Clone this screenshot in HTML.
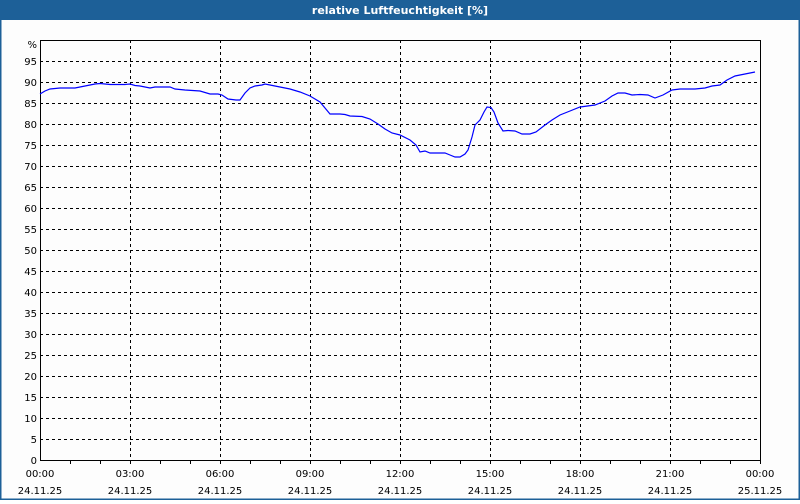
<!DOCTYPE html>
<html><head><style>
body{margin:0;width:800px;height:500px;overflow:hidden;background:#fff;font-family:Tahoma,"DejaVu Sans","Liberation Sans",sans-serif;}
</style></head><body>
<svg width="800" height="500" xmlns="http://www.w3.org/2000/svg" font-family="DejaVu Sans, Liberation Sans, sans-serif" font-size="10">
<rect x="0" y="0" width="800" height="500" fill="#fdfdfd"/>
<rect x="0" y="0" width="800" height="20" fill="#1d6098"/>
<rect x="0" y="0" width="1.5" height="500" fill="#1d6098"/>
<rect x="798.5" y="0" width="1.5" height="500" fill="#1d6098"/>
<rect x="0" y="498.5" width="800" height="1.5" fill="#1d6098"/>
<text x="400" y="14" fill="#fff" font-weight="bold" font-size="11" text-anchor="middle">relative Luftfeuchtigkeit [%]</text>
<g stroke="#000" stroke-width="1" stroke-dasharray="3,3">
<line x1="40" x2="760" y1="61.5" y2="61.5"/><line x1="40" x2="760" y1="82.5" y2="82.5"/><line x1="40" x2="760" y1="103.5" y2="103.5"/><line x1="40" x2="760" y1="124.5" y2="124.5"/><line x1="40" x2="760" y1="145.5" y2="145.5"/><line x1="40" x2="760" y1="166.5" y2="166.5"/><line x1="40" x2="760" y1="187.5" y2="187.5"/><line x1="40" x2="760" y1="208.5" y2="208.5"/><line x1="40" x2="760" y1="229.5" y2="229.5"/><line x1="40" x2="760" y1="250.5" y2="250.5"/><line x1="40" x2="760" y1="271.5" y2="271.5"/><line x1="40" x2="760" y1="292.5" y2="292.5"/><line x1="40" x2="760" y1="313.5" y2="313.5"/><line x1="40" x2="760" y1="334.5" y2="334.5"/><line x1="40" x2="760" y1="355.5" y2="355.5"/><line x1="40" x2="760" y1="376.5" y2="376.5"/><line x1="40" x2="760" y1="397.5" y2="397.5"/><line x1="40" x2="760" y1="418.5" y2="418.5"/><line x1="40" x2="760" y1="439.5" y2="439.5"/>
<line x1="130.5" x2="130.5" y1="40" y2="460"/><line x1="220.5" x2="220.5" y1="40" y2="460"/><line x1="310.5" x2="310.5" y1="40" y2="460"/><line x1="400.5" x2="400.5" y1="40" y2="460"/><line x1="490.5" x2="490.5" y1="40" y2="460"/><line x1="580.5" x2="580.5" y1="40" y2="460"/><line x1="670.5" x2="670.5" y1="40" y2="460"/>
</g>
<rect x="40.5" y="40.5" width="720" height="420" fill="none" stroke="#000"/>
<g stroke="#000">
<line x1="70.5" x2="70.5" y1="460" y2="464"/><line x1="100.5" x2="100.5" y1="460" y2="464"/><line x1="130.5" x2="130.5" y1="460" y2="464"/><line x1="160.5" x2="160.5" y1="460" y2="464"/><line x1="190.5" x2="190.5" y1="460" y2="464"/><line x1="220.5" x2="220.5" y1="460" y2="464"/><line x1="250.5" x2="250.5" y1="460" y2="464"/><line x1="280.5" x2="280.5" y1="460" y2="464"/><line x1="310.5" x2="310.5" y1="460" y2="464"/><line x1="340.5" x2="340.5" y1="460" y2="464"/><line x1="370.5" x2="370.5" y1="460" y2="464"/><line x1="400.5" x2="400.5" y1="460" y2="464"/><line x1="430.5" x2="430.5" y1="460" y2="464"/><line x1="460.5" x2="460.5" y1="460" y2="464"/><line x1="490.5" x2="490.5" y1="460" y2="464"/><line x1="520.5" x2="520.5" y1="460" y2="464"/><line x1="550.5" x2="550.5" y1="460" y2="464"/><line x1="580.5" x2="580.5" y1="460" y2="464"/><line x1="610.5" x2="610.5" y1="460" y2="464"/><line x1="640.5" x2="640.5" y1="460" y2="464"/><line x1="670.5" x2="670.5" y1="460" y2="464"/><line x1="700.5" x2="700.5" y1="460" y2="464"/><line x1="730.5" x2="730.5" y1="460" y2="464"/><line x1="760.5" x2="760.5" y1="460" y2="464"/>
</g>
<g fill="#000" text-anchor="end">
<text x="37" y="48">%</text><text x="37" y="65">95</text><text x="37" y="86">90</text><text x="37" y="107">85</text><text x="37" y="128">80</text><text x="37" y="149">75</text><text x="37" y="170">70</text><text x="37" y="191">65</text><text x="37" y="212">60</text><text x="37" y="233">55</text><text x="37" y="254">50</text><text x="37" y="275">45</text><text x="37" y="296">40</text><text x="37" y="317">35</text><text x="37" y="338">30</text><text x="37" y="359">25</text><text x="37" y="380">20</text><text x="37" y="401">15</text><text x="37" y="422">10</text><text x="37" y="443">5</text><text x="37" y="464">0</text>
</g>
<g fill="#000" text-anchor="middle">
<text x="40" y="477">00:00</text><text x="40" y="494">24.11.25</text>
<text x="130" y="477">03:00</text><text x="130" y="494">24.11.25</text>
<text x="220" y="477">06:00</text><text x="220" y="494">24.11.25</text>
<text x="310" y="477">09:00</text><text x="310" y="494">24.11.25</text>
<text x="400" y="477">12:00</text><text x="400" y="494">24.11.25</text>
<text x="490" y="477">15:00</text><text x="490" y="494">24.11.25</text>
<text x="580" y="477">18:00</text><text x="580" y="494">24.11.25</text>
<text x="670" y="477">21:00</text><text x="670" y="494">24.11.25</text>
<text x="760" y="477">00:00</text><text x="760" y="494">25.11.25</text>
</g>
<polyline fill="none" stroke="#0000ff" stroke-width="1.2" points="40,94 45,91 50,89 55,88.5 60,88 75,88 80,87 85,86 95,84 100,83.5 105,84 110,84.5 125,84.5 130,84 135,85.5 140,86 150,88 155,87 160,87 170,87 175,89 185,90 200,91 210,94 218,94 222,95 228,99 236,100 240,100 245,93 250,88 255,86 262,85 265,84 270,85 280,87 290,89 300,92 310,96 320,102 325,108 330,114 340,114 345,114.5 350,116 362,116.5 370,119 378,124 385,129 392,133 400,135 410,140 416,145 420,152 425,151 430,153 445,153 450,155 455,157 460,157 465,154 468,150 472,137 475,125 480,120 484,112 487,107 491,107.5 494,112 498,123 503,131 508,130.5 515,131 522,134 530,134 536,132 545,125 552,120 560,115 570,111 580,107 595,105 605,101 612,96 618,93 625,93 632,95 640,94.5 648,95 655,98 663,95 672,90 680,89 695,89 705,88 712,86 720,85 727,80 735,76 745,74 755,72"/>
</svg>
</body></html>
